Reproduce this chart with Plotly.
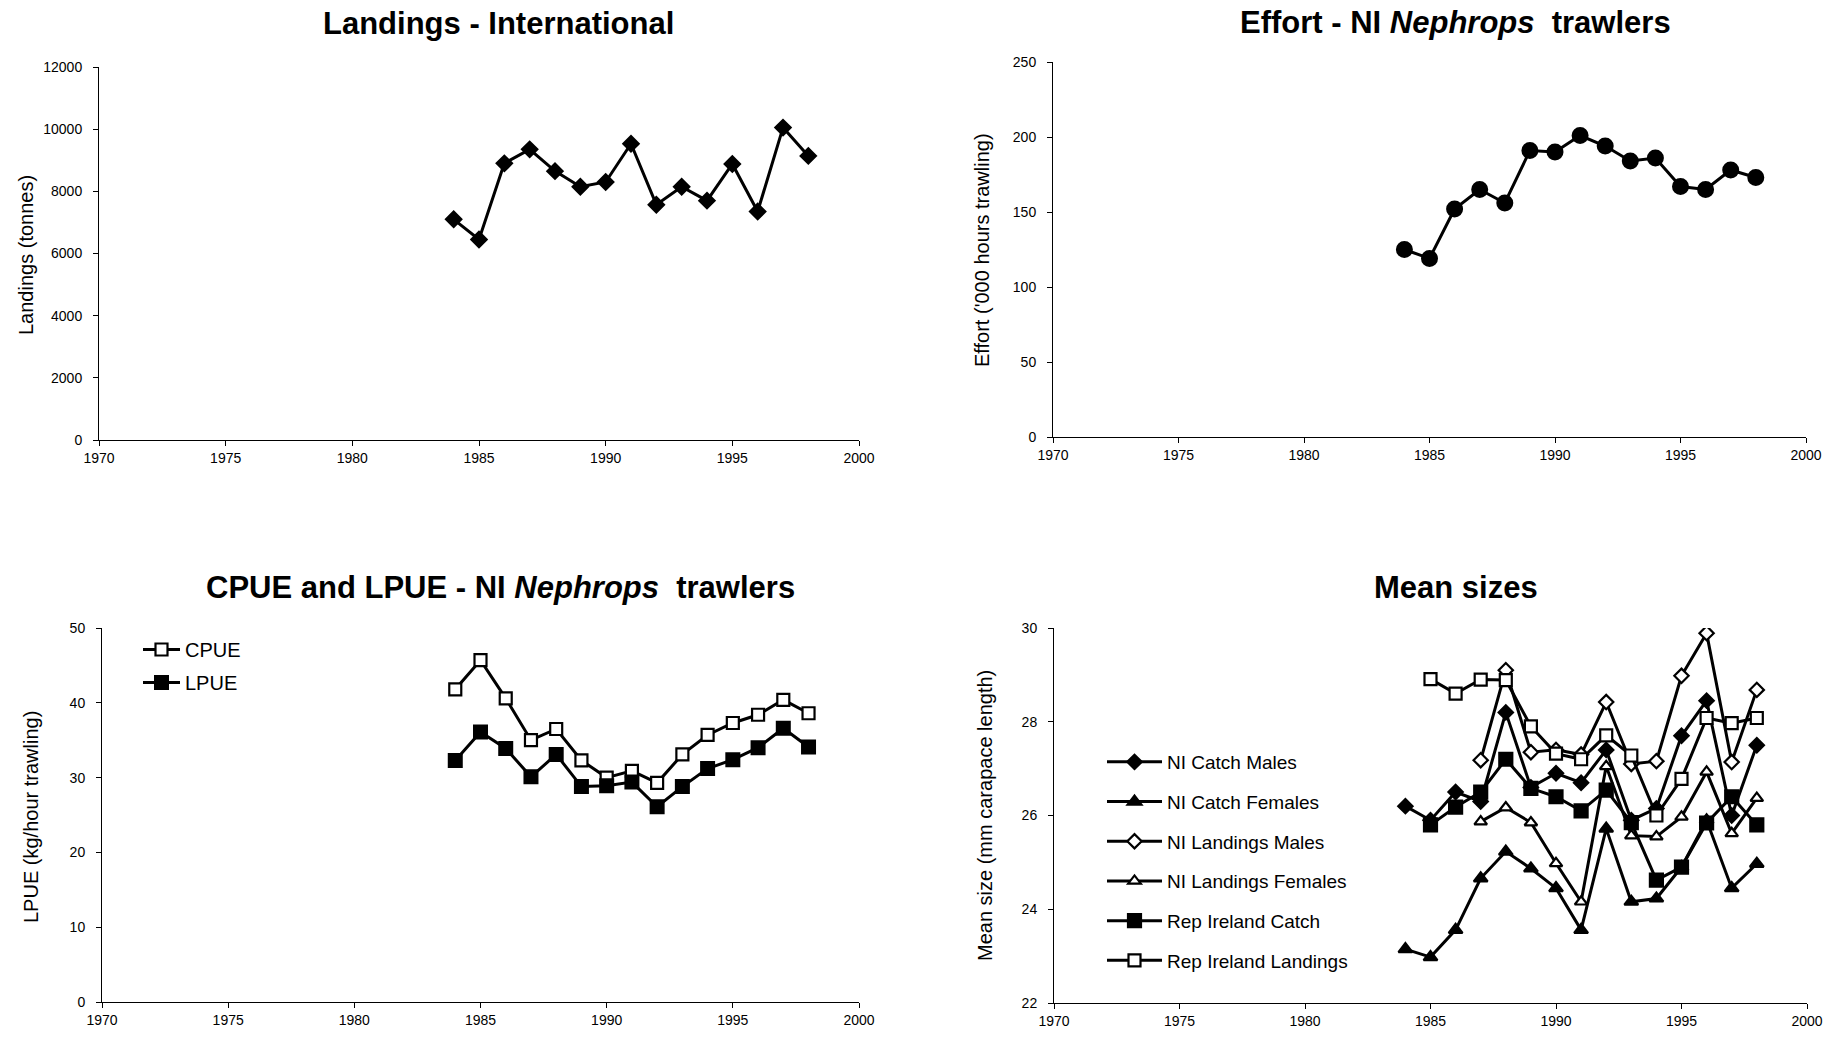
import plotly.graph_objects as go

W, H = 1833, 1038

# ---------------- data ----------------
years = list(range(1984, 1999))
landings = [7100, 6450, 8900, 9350, 8650, 8150, 8300, 9530, 7570, 8150, 7700, 8880, 7350, 10050, 9140]
effort = [125, 119, 152, 165, 156, 191, 190, 201, 194, 184, 186, 167, 165, 178, 173]
cpue = [41.8, 45.7, 40.6, 35.0, 36.5, 32.3, 30.0, 30.9, 29.3, 33.1, 35.7, 37.3, 38.4, 40.4, 38.6]
lpue = [32.3, 36.1, 33.9, 30.1, 33.1, 28.8, 28.9, 29.4, 26.1, 28.8, 31.2, 32.4, 34.0, 36.6, 34.1]

years_ni = list(range(1984, 1999))
ni_catch_males = [26.2, 25.9, 26.5, 26.3, 28.2, 26.6, 26.9, 26.7, 27.4, 25.9, 26.15, 27.7, 28.45, 26.0, 27.5]
ni_catch_females = [23.15, 22.98, 23.56, 24.66, 25.23, 24.87, 24.45, 23.56, 25.72, 24.16, 24.23, 24.9, 25.9, 24.45, 24.97]
years_nil = list(range(1987, 1999))
ni_land_males = [27.18, 29.1, 27.35, 27.4, 27.3, 28.42, 27.1, 27.16, 28.98, 29.89, 27.14, 28.68]
ni_land_females = [25.87, 26.17, 25.85, 24.98, 24.16, 27.05, 25.57, 25.55, 25.97, 26.93, 25.62, 26.37]
years_ri = list(range(1985, 1999))
ri_catch = [25.8, 26.18, 26.5, 27.2, 26.58, 26.4, 26.1, 26.54, 25.85, 24.62, 24.9, 25.84, 26.4, 25.8]
ri_landings = [28.91, 28.6, 28.9, 28.89, 27.9, 27.32, 27.2, 27.71, 27.28, 26.0, 26.78, 28.08, 27.97, 28.08]

x_ticks = [1970, 1975, 1980, 1985, 1990, 1995, 2000]

# ---------------- layout helpers ----------------
FONT = "Liberation Sans, Arial, sans-serif"

def xd(a, b):
    return [a / W, b / W]

def yd(top, bottom):
    return [1 - bottom / H, 1 - top / H]

fig = go.Figure()

def line_trace(x, y, xa, ya, symbol, filled, size, name=None, legend=None, lw=3, mlw=2):
    return go.Scatter(
        x=x, y=y, xaxis=xa, yaxis=ya, mode="lines+markers", name=name,
        showlegend=legend is not None, legend=legend if legend else "legend",
        legendgroup=name,
        line=dict(color="black", width=lw),
        marker=dict(symbol=symbol, size=size,
                    color="black" if filled else "white",
                    line=dict(color="black", width=mlw)),
    )

fig.add_trace(line_trace(years, landings, "x", "y", "diamond", True, 12))
fig.add_trace(line_trace(years, effort, "x2", "y2", "circle", True, 15))
fig.add_trace(line_trace(years, cpue, "x3", "y3", "square", False, 12, "CPUE", "legend", mlw=2.2))
fig.add_trace(line_trace(years, lpue, "x3", "y3", "square", True, 13, "LPUE", "legend"))

ms = [
    (years_ni, ni_catch_males, "diamond", True, 11, "NI Catch Males"),
    (years_ni, ni_catch_females, "triangle-up", True, 12, "NI Catch Females"),
    (years_nil, ni_land_males, "diamond", False, 11, "NI Landings Males"),
    (years_nil, ni_land_females, "triangle-up", False, 11, "NI Landings Females"),
    (years_ri, ri_catch, "square", True, 13, "Rep Ireland Catch"),
    (years_ri, ri_landings, "square", False, 12, "Rep Ireland Landings"),
]
for x, y, sym, filled, sz, nm in ms:
    fig.add_trace(line_trace(x, y, "x4", "y4", sym, filled, sz, nm, "legend2", lw=3, mlw=2.2))

tickfont = dict(family=FONT, size=14, color="black")

def xaxis(dom, anchor):
    return dict(domain=dom, anchor=anchor, range=[1970, 2000], tickvals=x_ticks,
                showgrid=False, zeroline=False, showline=True, linecolor="black",
                linewidth=1, ticks="outside", ticklen=5, tickcolor="black",
                tickfont=tickfont, fixedrange=True, automargin=False)

def yaxis(dom, anchor, rng, dtick):
    return dict(domain=dom, anchor=anchor, range=rng, dtick=dtick, tick0=rng[0],
                tickformat="d",
                showgrid=False, zeroline=False, showline=True, linecolor="black",
                linewidth=1, ticks="outside", ticklen=5, tickcolor="black",
                tickfont=tickfont, ticklabelstandoff=8, fixedrange=True, automargin=False)

fig.update_layout(
    width=W, height=H, margin=dict(l=0, r=0, t=0, b=0, autoexpand=False),
    paper_bgcolor="white", plot_bgcolor="white",
    font=dict(family=FONT, color="black"),
    xaxis=xaxis(xd(99, 859), "y"),
    yaxis=yaxis(yd(67, 440), "x", [0, 12000], 2000),
    xaxis2=xaxis(xd(1053, 1806), "y2"),
    yaxis2=yaxis(yd(62, 437), "x2", [0, 250], 50),
    xaxis3=xaxis(xd(102, 859), "y3"),
    yaxis3=yaxis(yd(628, 1002), "x3", [0, 50], 10),
    xaxis4=xaxis(xd(1054, 1807), "y4"),
    yaxis4=yaxis(yd(628, 1003), "x4", [22, 30], 2),
    legend=dict(x=138 / W, y=1 - 630 / H, xanchor="left", yanchor="top",
                bgcolor="rgba(0,0,0,0)", font=dict(family=FONT, size=20, color="black"),
                tracegroupgap=4, itemwidth=37),
    legend2=dict(x=1102 / W, y=1 - 743 / H, xanchor="left", yanchor="top",
                 bgcolor="rgba(0,0,0,0)", font=dict(family=FONT, size=19, color="black"),
                 tracegroupgap=12, itemwidth=55),
)

titles = [
    ("Landings - International", 498, 24),
    ("Effort - NI <i>Nephrops</i>  trawlers", 1455, 23),
    ("CPUE and LPUE - NI <i>Nephrops</i>  trawlers", 500, 587),
    ("Mean sizes", 1456, 587),
]
for txt, cx, cy in titles:
    fig.add_annotation(text="<b>" + txt + "</b>", x=cx / W, y=1 - cy / H, xref="paper", yref="paper",
                       showarrow=False, xanchor="center", yanchor="middle",
                       font=dict(family=FONT, size=31, color="black"))

ytitles = [
    ("Landings (tonnes)", 26, 255),
    ("Effort ('000 hours trawling)", 982, 250),
    ("LPUE (kg/hour trawling)", 31, 817),
    ("Mean size (mm carapace length)", 985, 816),
]
for txt, cx, cy in ytitles:
    fig.add_annotation(text=txt, x=cx / W, y=1 - cy / H, xref="paper", yref="paper",
                       showarrow=False, xanchor="center", yanchor="middle", textangle=-90,
                       font=dict(family=FONT, size=20, color="black"))

fig.write_html("out.html")
